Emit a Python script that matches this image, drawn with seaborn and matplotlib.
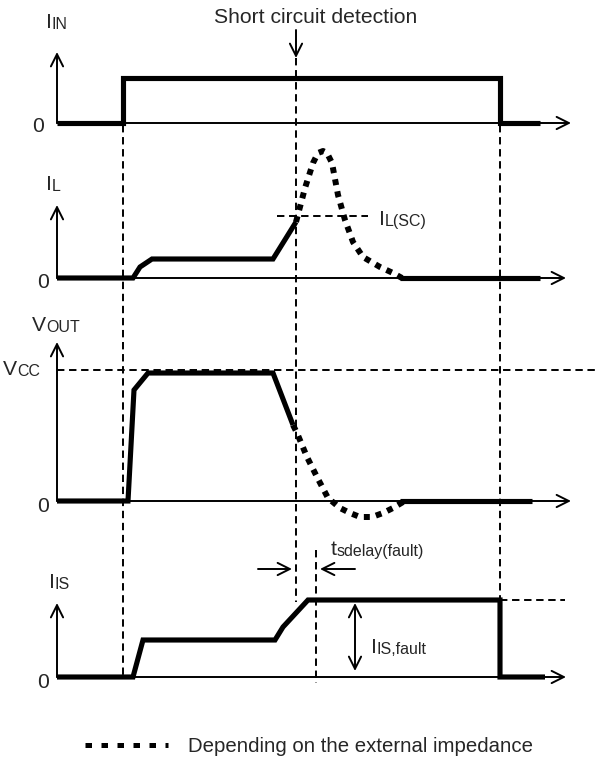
import numpy as np
import pandas as pd
import matplotlib
matplotlib.use("Agg")
import matplotlib.pyplot as plt
import seaborn as sns

# event times (x position on the shared time axis)
t_on, t_sc, t_fault, t_off = 123, 296, 316, 500

# zero line of each trace
base_iin, base_il, base_vout, base_iis = 123, 278, 501, 677

# waveforms: time and level above the trace's zero line
iin_t = [57, 123, 123, 500, 500, 540]
iin_v = [0, 0, 45, 45, 0, 0]

il_t = [57, 133, 140, 152, 273, 296]
il_v = [0, 0, 11, 19, 19, 56]
il_dot_t = [296, 305, 313, 318, 323, 327, 332, 338, 345, 353, 363, 380, 393, 402]
il_dot_v = [56, 90, 115, 125, 127, 125, 115, 83, 58, 36, 21, 11, 5, 0]
il_end_t = [400, 540]
il_end_v = [0, 0]
il_sc = 62

vout_t = [57, 128, 134, 148, 273, 293]
vout_v = [0, 0, 111, 128, 128, 76]
vout_dot_t = [293, 297, 307, 317, 328, 340, 350, 360, 372, 383, 393, 403]
vout_dot_v = [76, 68, 44, 24, 3, -7, -12, -16, -16, -12, -7, -1]
vout_end_t = [400, 532]
vout_end_v = [0, 0]
vcc = 131

iis_t = [57, 133, 143, 275, 283, 308, 500, 500, 545]
iis_v = [0, 0, 37, 37, 50, 77, 77, 0, 0]

sns.set_style("white")
plt.rcParams["font.family"] = ["Liberation Sans", "DejaVu Sans"]

fig = plt.figure(figsize=(5.95, 7.62), dpi=100)
ax = fig.add_axes([0, 0, 1, 1])
ax.set_xlim(0, 595)
ax.set_ylim(762, 0)
ax.axis("off")

FS, SUB = 15.2, 11.5
thick = dict(color="black", lw=3.7, solid_joinstyle="miter", solid_capstyle="butt")
dotted = dict(color="black", lw=4.3, linestyle=(0, (1, 1.05)), dash_capstyle="butt")
dash = dict(color="black", lw=1.4, linestyle=(0, (3.8, 2.4)))
arrow = dict(arrowstyle="->", lw=1.4, color="black", mutation_scale=22, shrinkA=0, shrinkB=0)

def trace(t, v, base, style):
    df = pd.DataFrame({"t": t, "y": base - np.array(v)})
    sns.lineplot(data=df, x="t", y="y", sort=False, estimator=None, ax=ax, **style)

def axes_arrows(base, top, right):
    ax.annotate("", xy=(57, top), xytext=(57, base), arrowprops=arrow)
    ax.annotate("", xy=(right, base), xytext=(57, base), arrowprops=arrow)

def label(x, y, main, sub):
    t = ax.text(x, y, main, fontsize=FS, va="baseline", ha="left")
    ax.annotate(sub, xy=(1, 0), xycoords=t, fontsize=SUB, va="bottom", ha="left")

# vertical event markers
ax.plot([t_on, t_on], [125, 676], **dash)
ax.plot([t_sc, t_sc], [58, 602], **dash)
ax.plot([t_off, t_off], [125, 598], **dash)
ax.plot([t_fault, t_fault], [550, 683], **dash)

# horizontal reference levels
ax.plot([57, 595], [base_vout - vcc] * 2, **dash)
ax.plot([277, 368], [base_il - il_sc] * 2, **dash)
ax.plot([t_off, 565], [base_iis - 77] * 2, **dash)

# axes of the four traces
axes_arrows(base_iin, 52, 571)
axes_arrows(base_il, 205, 566)
axes_arrows(base_vout, 342, 571)
axes_arrows(base_iis, 603, 566)

# waveforms
trace(iin_t, iin_v, base_iin, thick)
trace(il_t, il_v, base_il, thick)
trace(il_dot_t, il_dot_v, base_il, dotted)
trace(il_end_t, il_end_v, base_il, thick)
trace(vout_t, vout_v, base_vout, thick)
trace(vout_dot_t, vout_dot_v, base_vout, dotted)
trace(vout_end_t, vout_end_v, base_vout, thick)
trace(iis_t, iis_v, base_iis, thick)

# labels
label(46, 28, "I", "IN")
label(46, 190, "I", "L")
label(32, 331, "V", "OUT")
label(3, 375, "V", "CC")
label(49, 588, "I", "IS")
label(379, 225, "I", "L(SC)")
label(371, 653, "I", "IS,fault")
label(331, 555, "t", "sdelay(fault)")
ax.text(44, base_iin + 4, "0", fontsize=FS, ha="right", va="center")
for yb in [base_il, base_vout, base_iis]:
    ax.text(49, yb + 5, "0", fontsize=FS, ha="right", va="center")

ax.text(t_sc + 20, 23, "Short circuit detection", fontsize=FS, ha="center", va="baseline")
ax.annotate("", xy=(t_sc, 58), xytext=(t_sc, 30), arrowprops=arrow)

# delay and fault current markers
ax.annotate("", xy=(292, 569), xytext=(258, 569), arrowprops=arrow)
ax.annotate("", xy=(320, 569), xytext=(355, 569), arrowprops=arrow)
ax.annotate("", xy=(355, 603), xytext=(355, 671),
            arrowprops=dict(arrow, arrowstyle="<->"))

# legend
ax.plot([85, 168], [745, 745], color="black", lw=3.6, linestyle=(0, (1.3, 1.9)),
        dash_capstyle="butt")
ax.text(188, 752, "Depending on the external impedance", fontsize=14.7, va="baseline")

fig.savefig("out.png", dpi=100)
